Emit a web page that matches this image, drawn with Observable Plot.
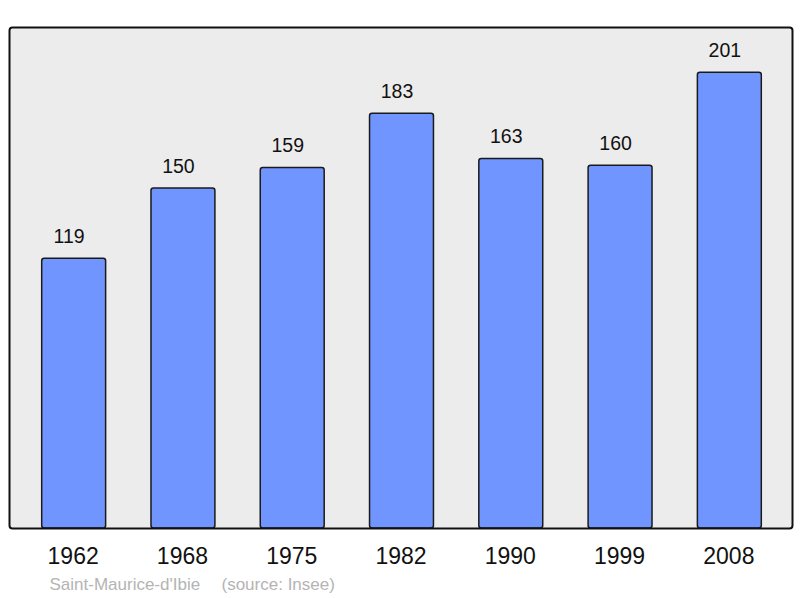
<!DOCTYPE html>
<html>
<head>
<meta charset="utf-8">
<script src="https://cdn.jsdelivr.net/npm/d3@7"></script>
<script src="https://cdn.jsdelivr.net/npm/@observablehq/plot@0.6"></script>
<style>
  html, body { margin: 0; padding: 0; background: #ffffff; }
  svg { display: block; }
</style>
</head>
<body>
<div id="chart"></div>
<script>
const years = ["1962", "1968", "1975", "1982", "1990", "1999", "2008"];
const population = [119, 150, 159, 183, 163, 160, 201];
const placeName = "Saint-Maurice-d'Ibie";
const sourceNote = "(source: Insee)";

const data = years.map((year, i) => ({year, pop: population[i]}));

const chart = Plot.plot({
  width: 800,
  height: 598,
  marginTop: 27,
  marginBottom: 70,
  marginLeft: 9,
  marginRight: 8,
  style: {fontFamily: "'Liberation Sans', Arial, sans-serif", background: "#ffffff"},
  x: {domain: years, range: [10, 793], paddingInner: 0.415, paddingOuter: 0.29, align: 0.5, round: false, axis: null},
  y: {domain: [0, 221], axis: null},
  marks: [
    Plot.frame({fill: "#ececec", stroke: "none", rx: 3}),
    Plot.barY(data, {x: "year", y: "pop", fill: "#7195ff", stroke: "#1a1a1a", strokeWidth: 1.5, rx: 2.5}),
    Plot.frame({fill: "none", stroke: "#111", strokeWidth: 2, rx: 3}),
    Plot.text(data, {x: "year", y: "pop", text: d => String(d.pop), dy: -22, dx: -5, fontSize: 19.5, fill: "#111"}),
    Plot.text(data, {x: "year", frameAnchor: "bottom", text: "year", dy: 28, dx: -1, fontSize: 23, fill: "#111", lineAnchor: "middle"}),
    Plot.text([placeName], {frameAnchor: "bottom-left", text: d => d, dx: 40, dy: 56, textAnchor: "start", fontSize: 17, fill: "#b4b4b4", lineAnchor: "middle"}),
    Plot.text([sourceNote], {frameAnchor: "bottom-left", text: d => d, dx: 212, dy: 56, textAnchor: "start", fontSize: 17, fill: "#b4b4b4", lineAnchor: "middle"})
  ]
});
document.getElementById("chart").appendChild(chart);
</script>
</body>
</html>
